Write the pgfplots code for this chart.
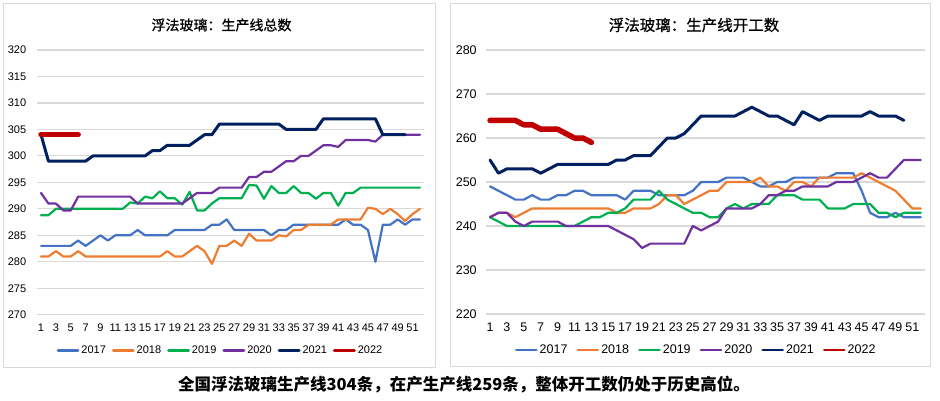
\documentclass[border=0pt]{standalone}
\usepackage{fontspec}
\setmainfont{Liberation Sans}
\newfontfamily\cjk{Noto Sans CJK SC}
\newfontfamily\cjkm[FakeBold=0.6]{Noto Sans CJK SC}
\usepackage{pgfplots}
\pgfplotsset{compat=1.18}
\definecolor{c17}{RGB}{68,114,196}
\definecolor{c18}{RGB}{237,125,49}
\definecolor{c19}{RGB}{0,176,80}
\definecolor{c20}{RGB}{112,48,160}
\definecolor{c21}{RGB}{0,32,96}
\definecolor{c22}{RGB}{192,0,0}
\definecolor{gridc}{RGB}{217,217,217}
\definecolor{framec}{RGB}{217,217,217}
\pgfplotsset{
  chart/.style={
    scale only axis, anchor=south west,
    axis line style={draw=none}, major tick length=0pt,
    ymajorgrids, grid style={line width=1.2pt, color=gridc},
    xmin=0.5, xmax=52.5, xtick={1,3,...,51},
    /pgf/number format/assume math mode=true,
    legend columns=6, legend cell align=left,
    legend image code/.code={\draw[##1, line width=2.8pt] (0pt,0pt) -- (20pt,0pt);},
    every axis plot/.append style={line join=round, line cap=round, no markers},
    clip=false,
  },
  s17/.style={c17, line width=2.2pt},
  s18/.style={c18, line width=2.2pt},
  s19/.style={c19, line width=2.2pt},
  s20/.style={c20, line width=2.2pt},
  s21/.style={c21, line width=3pt},
  s22/.style={c22, line width=5.5pt},
}
\begin{document}
\begin{tikzpicture}[x=1pt,y=1pt]
\path[use as bounding box] (0,0) rectangle (940,400);
\draw[framec, line width=1pt] (3,33) rectangle (435,396);
\draw[framec, line width=1pt] (450,34) rectangle (930,396);
\node[font=\cjkm\fontsize{14}{14}\selectfont] at (221.5,375) {浮法玻璃：生产线总数};
\node[font=\cjkm\fontsize{15.5}{15.5}\selectfont] at (694,375) {浮法玻璃：生产线开工数};
\node[font=\cjk\bfseries\fontsize{16.5}{16.5}\selectfont] at (464,15) {全国浮法玻璃生产线304条，在产生产线259条，整体开工数仍处于历史高位。};

\begin{axis}[chart, at={(37.3pt,85.3pt)}, width=386.4pt, height=264.7pt,
  ymin=270, ymax=320, ytick={270,275,...,320},
  ticklabel style={font=\fontsize{11}{11}\selectfont},
  xticklabel style={yshift=-6pt},
  yticklabel style={xshift=-7.6pt},
  legend style={draw=none, fill=none, at={(0.474,-0.136)}, anchor=center,
    font=\fontsize{11}{11}\selectfont,
    /tikz/every even column/.append style={column sep=4pt}},
]
\addplot[s17] coordinates {(1,283)(2,283)(3,283)(4,283)(5,283)(6,284)(7,283)(8,284)(9,285)(10,284)(11,285)(12,285)(13,285)(14,286)(15,285)(16,285)(17,285)(18,285)(19,286)(20,286)(21,286)(22,286)(23,286)(24,287)(25,287)(26,288)(27,286)(28,286)(29,286)(30,286)(31,286)(32,285)(33,286)(34,286)(35,287)(36,287)(37,287)(38,287)(39,287)(40,287)(41,287)(42,288)(43,287)(44,287)(45,286)(46,280)(47,287)(48,287)(49,288)(50,287)(51,288)(52,288)};
\addlegendentry{2017}
\addplot[s18] coordinates {(1,281)(2,281)(3,282)(4,281)(5,281)(6,282)(7,281)(8,281)(9,281)(10,281)(11,281)(12,281)(13,281)(14,281)(15,281)(16,281)(17,281)(18,282)(19,281)(20,281)(21,282)(22,283)(23,282)(24,279.6)(25,283)(26,283)(27,284)(28,283)(29,285.3)(30,284)(31,284)(32,284)(33,285)(34,284.8)(35,286)(36,286)(37,287)(38,287)(39,287)(40,287)(41,288)(42,288)(43,288)(44,288)(45,290.2)(46,290)(47,289)(48,290)(49,289)(50,287.7)(51,289)(52,290)};
\addlegendentry{2018}
\addplot[s19] coordinates {(1,288.8)(2,288.8)(3,290)(4,290)(5,290)(6,290)(7,290)(8,290)(9,290)(10,290)(11,290)(12,290)(13,291.2)(14,291)(15,292.3)(16,292)(17,293.3)(18,292)(19,292)(20,290.8)(21,293.2)(22,289.7)(23,289.7)(24,291)(25,292)(26,292)(27,292)(28,292)(29,294.5)(30,294.4)(31,291.9)(32,294.3)(33,293)(34,293)(35,294.3)(36,293)(37,293)(38,291.9)(39,293)(40,293)(41,290.6)(42,293)(43,293)(44,294)(45,294)(46,294)(47,294)(48,294)(49,294)(50,294)(51,294)(52,294)};
\addlegendentry{2019}
\addplot[s20] coordinates {(1,293)(2,291)(3,291)(4,289.7)(5,289.7)(6,292.3)(7,292.3)(8,292.3)(9,292.3)(10,292.3)(11,292.3)(12,292.3)(13,292.3)(14,291)(15,291)(16,291)(17,291)(18,291)(19,291)(20,291)(21,292)(22,293)(23,293)(24,293)(25,294)(26,294)(27,294)(28,294)(29,296)(30,296)(31,297)(32,297)(33,298)(34,299)(35,299)(36,300)(37,300)(38,301)(39,302)(40,302)(41,301.7)(42,303)(43,303)(44,303)(45,303)(46,302.7)(47,304)(48,304)(49,304)(50,304)(51,304)(52,304)};
\addlegendentry{2020}
\addplot[s21] coordinates {(1,304)(2,299)(3,299)(4,299)(5,299)(6,299)(7,299)(8,300)(9,300)(10,300)(11,300)(12,300)(13,300)(14,300)(15,300)(16,301)(17,301)(18,302)(19,302)(20,302)(21,302)(22,303)(23,304)(24,304)(25,306)(26,306)(27,306)(28,306)(29,306)(30,306)(31,306)(32,306)(33,306)(34,305)(35,305)(36,305)(37,305)(38,305)(39,307)(40,307)(41,307)(42,307)(43,307)(44,307)(45,307)(46,307)(47,304)(48,304)(49,304)(50,304)};
\addlegendentry{2021}
\addplot[s22] coordinates {(1,304)(2,304)(3,304)(4,304)(5,304)(6,304)};
\addlegendentry{2022}
\end{axis}

\begin{axis}[chart, at={(485.8pt,86pt)}, width=439.2pt, height=264pt,
  ymin=220, ymax=280, ytick={220,230,...,280},
  ticklabel style={font=\fontsize{12.5}{12.5}\selectfont},
  xticklabel style={yshift=-5.6pt},
  yticklabel style={xshift=-5.6pt},
  legend style={draw=none, fill=none, at={(0.479,-0.136)}, anchor=center,
    font=\fontsize{12.5}{12.5}\selectfont,
    /tikz/every even column/.append style={column sep=7pt}},
]
\addplot[s17] coordinates {(1,249)(2,248)(3,247)(4,246)(5,246)(6,247)(7,246)(8,246)(9,247)(10,247)(11,248)(12,248)(13,247)(14,247)(15,247)(16,247)(17,246)(18,248)(19,248)(20,248)(21,247)(22,247)(23,247)(24,247)(25,248)(26,250)(27,250)(28,250)(29,251)(30,251)(31,251)(32,250)(33,249)(34,249)(35,250)(36,250)(37,251)(38,251)(39,251)(40,251)(41,251)(42,252)(43,252)(44,252)(45,248)(46,243)(47,242)(48,242)(49,243)(50,242)(51,242)(52,242)};
\addlegendentry{2017}
\addplot[s18] coordinates {(1,242)(2,243)(3,243)(4,242)(5,243)(6,244)(7,244)(8,244)(9,244)(10,244)(11,244)(12,244)(13,244)(14,244)(15,244)(16,243)(17,243)(18,244)(19,244)(20,244)(21,245)(22,247)(23,247)(24,245)(25,246)(26,247)(27,248)(28,248)(29,250)(30,250)(31,250)(32,250)(33,251)(34,249)(35,249)(36,248)(37,250)(38,250)(39,249)(40,251)(41,251)(42,251)(43,251)(44,251)(45,252)(46,251)(47,250)(48,249)(49,248)(50,246)(51,244)(52,244)};
\addlegendentry{2018}
\addplot[s19] coordinates {(1,242)(2,241)(3,240)(4,240)(5,240)(6,240)(7,240)(8,240)(9,240)(10,240)(11,240)(12,241)(13,242)(14,242)(15,243)(16,243)(17,244)(18,246)(19,246)(20,246)(21,248)(22,246)(23,245)(24,244)(25,243)(26,243)(27,242)(28,242)(29,244)(30,245)(31,244)(32,245)(33,245)(34,245)(35,247)(36,247)(37,247)(38,246)(39,246)(40,246)(41,244)(42,244)(43,244)(44,245)(45,245)(46,245)(47,243)(48,243)(49,242)(50,243)(51,243)(52,243)};
\addlegendentry{2019}
\addplot[s20] coordinates {(1,242)(2,243)(3,243)(4,241)(5,240)(6,241)(7,241)(8,241)(9,241)(10,240)(11,240)(12,240)(13,240)(14,240)(15,240)(16,239)(17,238)(18,237)(19,235)(20,236)(21,236)(22,236)(23,236)(24,236)(25,240)(26,239)(27,240)(28,241)(29,244)(30,244)(31,244)(32,244)(33,245)(34,247)(35,247)(36,248)(37,248)(38,249)(39,249)(40,249)(41,249)(42,250)(43,250)(44,250)(45,251)(46,252)(47,251)(48,251)(49,253)(50,255)(51,255)(52,255)};
\addlegendentry{2020}
\addplot[s21] coordinates {(1,255)(2,252)(3,253)(4,253)(5,253)(6,253)(7,252)(8,253)(9,254)(10,254)(11,254)(12,254)(13,254)(14,254)(15,254)(16,255)(17,255)(18,256)(19,256)(20,256)(21,258)(22,260)(23,260)(24,261)(25,263)(26,265)(27,265)(28,265)(29,265)(30,265)(31,266)(32,267)(33,266)(34,265)(35,265)(36,264)(37,263)(38,266)(39,265)(40,264)(41,265)(42,265)(43,265)(44,265)(45,265)(46,266)(47,265)(48,265)(49,265)(50,264)};
\addlegendentry{2021}
\addplot[s22] coordinates {(1,264)(2,264)(3,264)(4,264)(5,263)(6,263)(7,262)(8,262)(9,262)(10,261)(11,260)(12,260)(13,259)};
\addlegendentry{2022}
\end{axis}
\end{tikzpicture}
\end{document}
